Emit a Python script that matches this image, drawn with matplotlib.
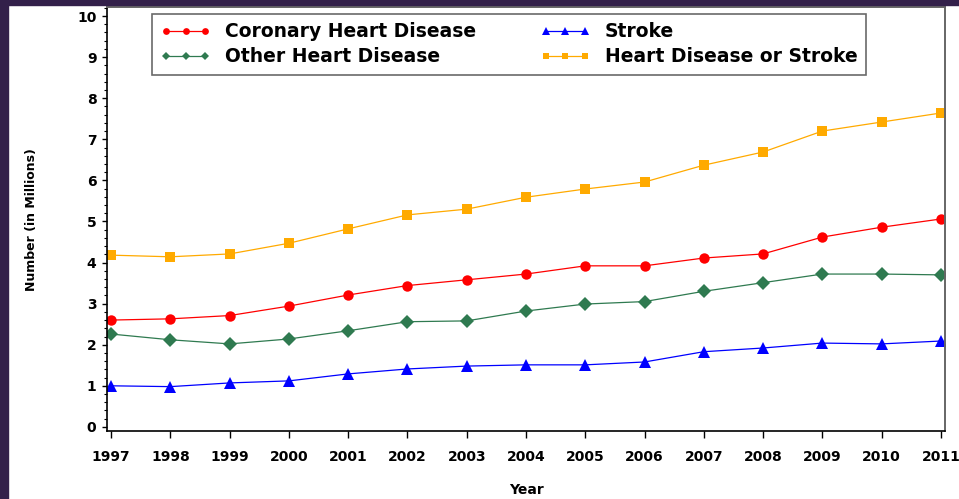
import numpy as np
import matplotlib
matplotlib.use("Agg")
import matplotlib.pyplot as plt
from matplotlib.lines import Line2D
from matplotlib.patches import Rectangle
from matplotlib.ticker import MultipleLocator

# Datos (millones)
years = list(range(1997, 2012))
coronary = [2.60, 2.63, 2.71, 2.94, 3.21, 3.44, 3.58, 3.72, 3.92, 3.92, 4.11, 4.21, 4.62, 4.86, 5.06]
other = [2.26, 2.12, 2.02, 2.14, 2.34, 2.56, 2.58, 2.82, 2.99, 3.05, 3.30, 3.51, 3.72, 3.72, 3.70]
stroke = [1.00, 0.98, 1.07, 1.12, 1.29, 1.41, 1.48, 1.51, 1.51, 1.58, 1.83, 1.92, 2.04, 2.02, 2.09]
hd_stroke = [4.18, 4.14, 4.21, 4.47, 4.82, 5.16, 5.30, 5.59, 5.79, 5.96, 6.37, 6.69, 7.20, 7.42, 7.64]

labels = ["Coronary Heart Disease", "Other Heart Disease", "Stroke", "Heart Disease or Stroke"]
colors = ["#ff0000", "#2f7a50", "#0000ff", "#ffaa00"]
markers = ["o", "D", "^", "s"]
sizes = [7.5, 7, 8.5, 7.5]

plt.rcParams['font.family'] = ['DejaVu Sans']

fig = plt.figure(figsize=(9.59, 4.99), dpi=100)
W, H = 959, 499
ax = fig.add_axes([107 / W, 1 - 431 / H, (945 - 107) / W, (431 - 7) / H])

# borde morado
fig.patches.append(Rectangle((0, 0), 8 / W, 1, transform=fig.transFigure,
                             color="#33204a", zorder=0))
fig.patches.append(Rectangle((0, 1 - 5 / H), 1, 5 / H, transform=fig.transFigure,
                             color="#33204a", zorder=0))

series = [coronary, other, stroke, hd_stroke]
for vals, lab, c, m, s in zip(series, labels, colors, markers, sizes):
    ax.plot(years, vals, color=c, lw=0.9, marker=m, markersize=s,
            markeredgewidth=0, label=lab)

ax.set_xlim(1996.93, 2011.07)
ax.set_ylim(-0.1, 10.22)
ax.set_xticks(years)
ax.set_yticks(range(0, 11))
ax.yaxis.set_minor_locator(MultipleLocator(0.2))

ax.tick_params(axis='x', length=5, width=1, pad=8.5, labelsize=10)
ax.tick_params(axis='y', which='major', length=3.6, width=1, pad=4, labelsize=10)
ax.tick_params(axis='y', which='minor', length=2.2, width=0.8)
for t in ax.get_xticklabels() + ax.get_yticklabels():
    t.set_fontweight('bold')

for side in ['left', 'bottom']:
    ax.spines[side].set_linewidth(1.2)
    ax.spines[side].set_color('black')
for side in ['top', 'right']:
    ax.spines[side].set_linewidth(1.4)
    ax.spines[side].set_color('#666666')

ax.set_xlabel("Year", fontsize=10, fontweight='bold', labelpad=14)
fig.text(32 / W, 1 - 220 / H, "Number (in Millions)", rotation=90, fontsize=9,
         fontweight='bold', ha='center', va='center')

handles = [Line2D([0], [0], color=c, lw=0.9, marker=m, markersize=s * 0.65,
                  markeredgewidth=0)
           for c, m, s in zip(colors, markers, sizes)]
leg = ax.legend(handles, labels, ncol=2, numpoints=3, loc='upper left',
                bbox_to_anchor=(152 / W, 1 - 14 / H), bbox_transform=fig.transFigure,
                borderaxespad=0, fancybox=False, frameon=True, handlelength=2.7,
                handletextpad=0.75, columnspacing=3.4, labelspacing=0.3,
                borderpad=0.45, prop={'size': 13.5, 'weight': 'bold'})
leg.get_frame().set_edgecolor('#444444')
leg.get_frame().set_linewidth(1.2)

fig.savefig("out.png", dpi=100)
